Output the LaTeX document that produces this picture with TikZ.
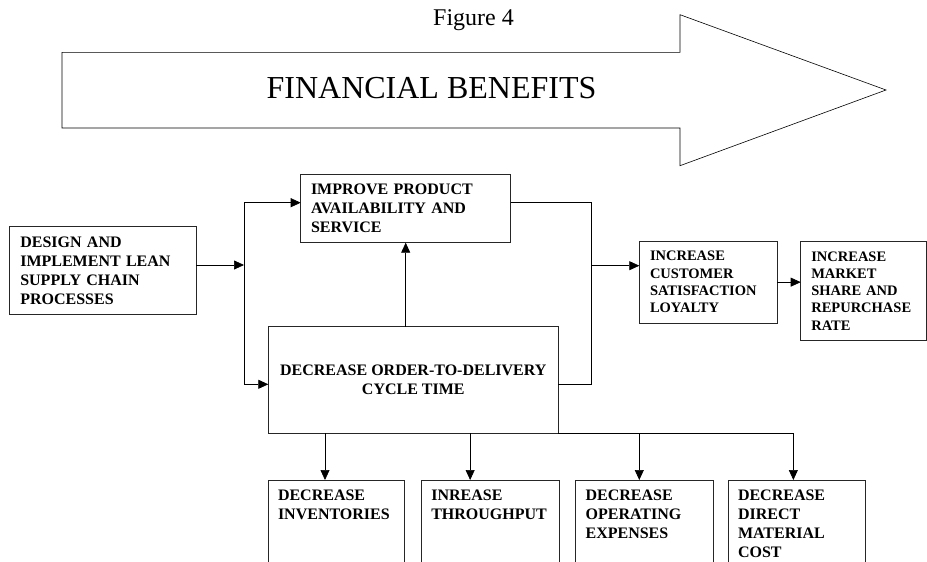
\documentclass[tikz,border=0pt]{standalone}
\usepackage{fontspec}
\setmainfont{Liberation Serif}
\usetikzlibrary{arrows.meta}
\hyphenpenalty=10000
\tikzset{
    stagebox/.style={draw=black!85, line width=0.8pt, anchor=north west, outer sep=0pt,
        align=left, inner xsep=4pt, font=\bfseries\fontsize{16}{19}\selectfont},
    smallbox/.style={stagebox, font=\bfseries\fontsize{14.5}{17.3}\selectfont},
    outcomebox/.style={stagebox, inner xsep=10pt, inner ysep=10pt},
    link/.style={black, line width=0.7pt},
    flow/.style={link, -{Triangle[length=10pt,width=9pt]}}
}

\begin{document}
\begin{tikzpicture}[x=1pt,y=-1pt]
        \useasboundingbox (0,0) rectangle (927,562);
        \clip (0,0) rectangle (927,562);
        \draw[black, line width=0.6pt] (62,52.3) -- (680,52.3) -- (680,14.7) -- (886,90) -- (680,165.7) -- (680,128) -- (62,128) -- cycle;
        \node[font=\fontsize{32}{38}\selectfont] (benefits) at (431.5,88) {FINANCIAL BENEFITS};
        \node[anchor=base, font=\fontsize{24}{28}\selectfont, inner sep=0pt] (figlabel) at (473.5,25) {Figure 4};

        \node[stagebox, minimum width=186.7pt, minimum height=87.6pt, text width=164.7pt] (design) at (9.3,226.7) {DESIGN AND\\IMPLEMENT LEAN\\SUPPLY CHAIN\\PROCESSES};
        \node[stagebox, minimum width=210pt, minimum height=68pt, text width=189.4pt] (improve) at (300.7,174.7) {IMPROVE PRODUCT\\AVAILABILITY AND\\SERVICE};
        \node[stagebox, minimum width=290pt, minimum height=106.6pt, align=center] (order) at (268.3,326.7) {DECREASE ORDER-TO-DELIVERY\\CYCLE TIME};
        \node[smallbox, minimum width=137.7pt, minimum height=82.3pt, text width=116.3pt] (customer) at (639.3,241) {INCREASE\\CUSTOMER\\SATISFACTION\\LOYALTY};
        \node[smallbox, minimum width=125.8pt, minimum height=99.7pt, text width=104.6pt] (market) at (800.7,241) {INCREASE\\MARKET\\SHARE AND\\REPURCHASE\\RATE};

        \node[outcomebox] (inv) at (268,480) {\parbox[t][100pt][t]{116pt}{DECREASE\\INVENTORIES}};
        \node[outcomebox] (thr) at (421.3,480) {\parbox[t][100pt][t]{117.7pt}{INREASE\\THROUGHPUT}};
        \node[outcomebox] (opx) at (575.6,480) {\parbox[t][100pt][t]{117.4pt}{DECREASE\\OPERATING\\EXPENSES}};
        \node[outcomebox] (mat) at (728,480) {\parbox[t][100pt][t]{117.7pt}{DECREASE\\DIRECT\\MATERIAL\\COST}};

        \coordinate (jl) at (244,265);
        \coordinate (jlt) at (244,202.7);
        \coordinate (jlb) at (244,384.3);
        \coordinate (jr) at (591.7,265.7);
        \coordinate (jrt) at (591.7,202.7);
        \coordinate (jrb) at (591.7,384);

        \draw[flow] (design.east |- jl) -- (jl);
        \draw[link] (jlt) -- (jlb);
        \draw[flow] (jlt) -- (jlt -| improve.west);
        \draw[flow] (jlb) -- (jlb -| order.west);
        \draw[flow] (improve.south |- order.north) -- (improve.south);
        \draw[link] (jrt -| improve.east) -- (jrt) -- (jrb) -- (jrb -| order.east);
        \draw[flow] (jr) -- (jr -| customer.west);
        \draw[flow] (customer.east) -- (customer.east -| market.west);

        \draw[link] (order.south east) -- ([xshift=-3.5pt]mat.north |- order.south);
        \foreach \n/\s in {inv/-11,thr/-20,opx/-5,mat/-3.5}
            \draw[flow] ([xshift=\s pt]\n.north |- order.south) -- ([xshift=\s pt]\n.north);
    \end{tikzpicture}
\end{document}
